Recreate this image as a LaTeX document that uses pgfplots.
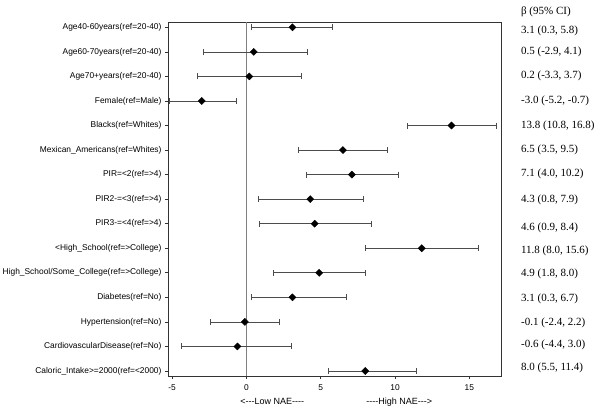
\documentclass[border=0pt]{standalone}
\usepackage{fontspec}
\setmainfont{Liberation Sans}
\newfontfamily\seriffont{Liberation Serif}
\usepackage{pgfplots}
\usepackage{pgfplotstable}
\pgfplotsset{compat=1.18}

% row, estimate, lower and upper 95% CI
\pgfplotstableread{
row est lo hi
1 3.1 0.3 5.8
2 0.5 -2.9 4.1
3 0.2 -3.3 3.7
4 -3.0 -5.2 -0.7
5 13.8 10.8 16.8
6 6.5 3.5 9.5
7 7.1 4.0 10.2
8 4.3 0.8 7.9
9 4.6 0.9 8.4
10 11.8 8.0 15.6
11 4.9 1.8 8.0
12 3.1 0.3 6.7
13 -0.1 -2.4 2.2
14 -0.6 -4.4 3.0
15 8.0 5.5 11.4
}\nae

\begin{document}
\begin{tikzpicture}
\path[use as bounding box] (0pt,0pt) rectangle (600pt,409pt);
\begin{axis}[
    at={(168pt,33pt)}, anchor=south west,
    scale only axis,
    width=333pt, height=354pt,
    xmin=-5.27, xmax=17.13,
    ymin=0.784, ymax=15.204,
    y dir=reverse,
    clip=false,
    axis line style={black!80, line width=0.8pt},
    xtick={-5,0,5,10,15},
    xticklabels={-5,0,5,10,15},
    xticklabel style={yshift=-2pt},
    ytick={1,...,15},
    yticklabels={
        {Age40-60years(ref=20-40)},
        {Age60-70years(ref=20-40)},
        {Age70+years(ref=20-40)},
        {Female(ref=Male)},
        {Blacks(ref=Whites)},
        {Mexican\_Americans(ref=Whites)},
        {PIR=<2(ref=>4)},
        {PIR2-=<3(ref=>4)},
        {PIR3-=<4(ref=>4)},
        {<High\_School(ref=>College)},
        {High\_School/Some\_College(ref=>College)},
        {Diabetes(ref=No)},
        {Hypertension(ref=No)},
        {CardiovascularDisease(ref=No)},
        {Caloric\_Intake>=2000(ref=<2000)}},
    tick align=outside,
    tick pos=left,
    major tick length=3pt,
    tick style={black!80, line width=0.6pt},
    ticklabel style={font=\fontsize{8.4}{10}\selectfont},
]
\draw[gray, line width=0.6pt] (axis cs:0,0.784) -- (axis cs:0,15.204);

\addplot[
    only marks,
    mark=square*,
    mark size=2.5pt,
    mark options={rotate=45},
    black,
    error bars/.cd,
        x dir=both,
        x explicit,
        error bar style={black!70, line width=0.6pt},
        error mark=|,
        error mark options={black!70, mark size=3pt, line width=0.6pt},
] table[
    x=est, y=row,
    x error plus expr=\thisrow{hi}-\thisrow{est},
    x error minus expr=\thisrow{est}-\thisrow{lo},
] {\nae};

\begin{scope}[every node/.style={anchor=west, inner sep=0pt,
        font=\seriffont\fontsize{11}{13}\selectfont}]
\node at (axis cs:18.47,0.38) {β (95\% CI)};
\node at (axis cs:18.47,1.14) {3.1 (0.3, 5.8)};
\node at (axis cs:18.47,2.02) {0.5 (-2.9, 4.1)};
\node at (axis cs:18.47,2.98) {0.2 (-3.3, 3.7)};
\node at (axis cs:18.47,3.99) {-3.0 (-5.2, -0.7)};
\node at (axis cs:18.47,5.01) {13.8 (10.8, 16.8)};
\node at (axis cs:18.47,6.0) {6.5 (3.5, 9.5)};
\node at (axis cs:18.47,6.99) {7.1 (4.0, 10.2)};
\node at (axis cs:18.47,8.01) {4.3 (0.8, 7.9)};
\node at (axis cs:18.47,9.16) {4.6 (0.9, 8.4)};
\node at (axis cs:18.47,10.11) {11.8 (8.0, 15.6)};
\node at (axis cs:18.47,11.06) {4.9 (1.8, 8.0)};
\node at (axis cs:18.47,12.05) {3.1 (0.3, 6.7)};
\node at (axis cs:18.47,13.03) {-0.1 (-2.4, 2.2)};
\node at (axis cs:18.47,13.95) {-0.6 (-4.4, 3.0)};
\node at (axis cs:18.47,14.89) {8.0 (5.5, 11.4)};
\end{scope}

\node[font=\fontsize{9}{11}\selectfont] at (axis cs:1.75,16.26) {<-{}-{}-Low NAE-{}-{}-{}-};
\node[font=\fontsize{9}{11}\selectfont] at (axis cs:10.29,16.26) {-{}-{}-{}-High NAE-{}-{}->};
\end{axis}
\end{tikzpicture}
\end{document}
